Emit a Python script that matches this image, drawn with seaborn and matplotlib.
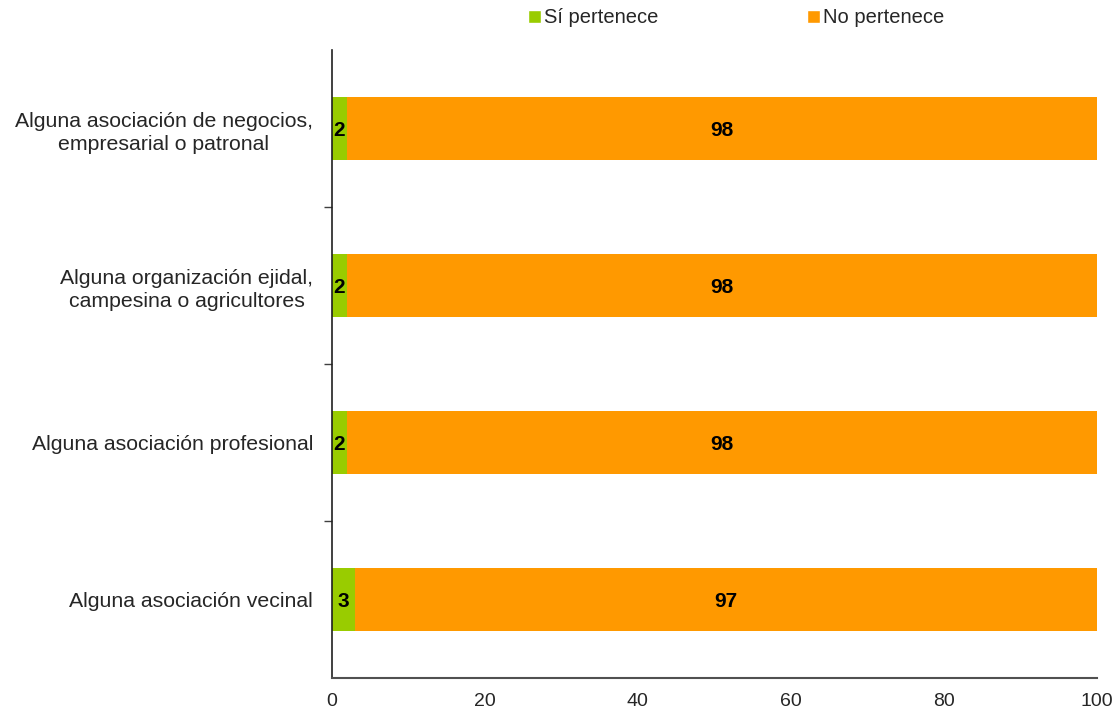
import numpy as np
import pandas as pd
import matplotlib.pyplot as plt
import seaborn as sns
from matplotlib.patches import Patch

# data
categorias = ['Alguna asociación de negocios,\nempresarial o patronal',
              'Alguna organización ejidal,\ncampesina o agricultores',
              'Alguna asociación profesional',
              'Alguna asociación vecinal']
si_pertenece = [2, 2, 2, 3]
no_pertenece = [98, 98, 98, 97]

verde = '#99CC00'
naranja = '#FF9900'

sns.set_style('white')
plt.rcParams['font.family'] = ['Liberation Sans', 'DejaVu Sans']

df = pd.DataFrame({'categoria': categorias, 'si': si_pertenece, 'no': no_pertenece})
df['total'] = df['si'] + df['no']

fig = plt.figure(figsize=(11.17, 7.16), dpi=100)
ax = fig.add_axes([0.297, 0.053, 0.685, 0.877])

# stacked bars: full length in orange, green share drawn over it
sns.barplot(data=df, x='total', y='categoria', color=naranja, width=0.4,
            saturation=1, ax=ax, edgecolor='none')
sns.barplot(data=df, x='si', y='categoria', color=verde, width=0.4,
            saturation=1, ax=ax, edgecolor='none')

# value labels
for i, row in df.iterrows():
    ax.text(row['si'] / 2, i, str(row['si']), ha='center', va='center_baseline',
            fontsize=15, fontweight='bold', color='black')
    ax.text(row['si'] + row['no'] / 2, i, str(row['no']), ha='center', va='center_baseline',
            fontsize=15, fontweight='bold', color='black')

ax.set_xlim(0, 100)
ax.set_ylim(3.5, -0.5)
ax.set_xticks([0, 20, 40, 60, 80, 100])
ax.set_xlabel('')
ax.set_ylabel('')
ax.tick_params(axis='y', which='major', length=0, labelsize=15.3, pad=13.5)
for lbl in ax.get_yticklabels():
    lbl.set_multialignment('center')
    lbl.set_linespacing(1.3)
ax.set_yticks([0.5, 1.5, 2.5], minor=True)
ax.tick_params(axis='y', which='minor', length=6, width=1, color='#404040', direction='out')
ax.tick_params(axis='x', length=5, width=1, color='#404040', labelsize=14, pad=6)
ax.tick_params(axis='y', which='major', left=False)
ax.yaxis.set_tick_params(which='minor', left=True)

for side in ['top', 'right']:
    ax.spines[side].set_visible(False)
ax.spines['left'].set_color('#202020')
ax.spines['bottom'].set_color('#505050')
ax.spines['left'].set_linewidth(1.2)
ax.spines['bottom'].set_linewidth(1.5)

handles = [Patch(facecolor=verde, label='Sí pertenece'),
           Patch(facecolor=naranja, label='No pertenece')]
fig.legend(handles=handles, loc='center', bbox_to_anchor=(0.659, 0.975), ncol=2,
           frameon=False, fontsize=14.5, handlelength=0.65, handleheight=0.65,
           handletextpad=0.15, columnspacing=7.4)

fig.savefig('out.png', dpi=100)
